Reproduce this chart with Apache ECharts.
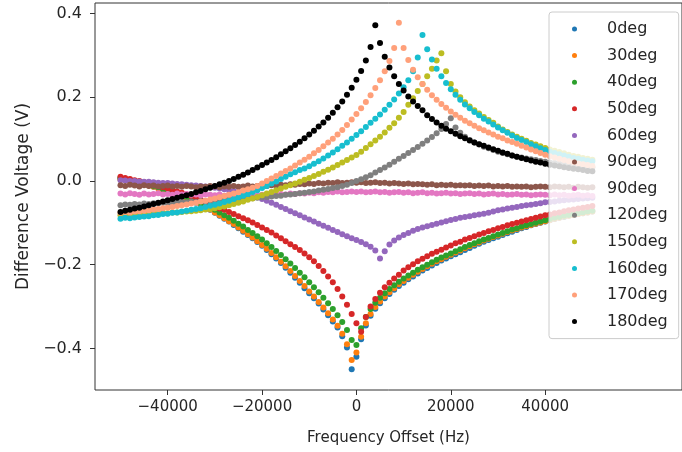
<!DOCTYPE html>
<html>
<head>
<meta charset="utf-8">
<script src="https://cdn.jsdelivr.net/npm/echarts@6.0.0/dist/echarts.min.js"></script>
<style>
  html, body { margin: 0; padding: 0; background: #ffffff; }
  #chart { width: 682px; height: 452px; }
</style>
</head>
<body>
<div id="chart"></div>
<script>
// Frequency offsets (Hz) of the sweep, shared by every phase setting
const freqHz = [
  -50000, -49000, -48000, -47000, -46000, -45000, -44000, -43000, -42000, -41000,
  -40000, -39000, -38000, -37000, -36000, -35000, -34000, -33000, -32000, -31000,
  -30000, -29000, -28000, -27000, -26000, -25000, -24000, -23000, -22000, -21000,
  -20000, -19000, -18000, -17000, -16000, -15000, -14000, -13000, -12000, -11000,
  -10000, -9000, -8000, -7000, -6000, -5000, -4000, -3000, -2000, -1000,
  0, 1000, 2000, 3000, 4000, 5000, 6000, 7000, 8000, 9000,
  10000, 11000, 12000, 13000, 14000, 15000, 16000, 17000, 18000, 19000,
  20000, 21000, 22000, 23000, 24000, 25000, 26000, 27000, 28000, 29000,
  30000, 31000, 32000, 33000, 34000, 35000, 36000, 37000, 38000, 39000,
  40000, 41000, 42000, 43000, 44000, 45000, 46000, 47000, 48000, 49000, 50000
];

// Difference voltage (V) for each phase setting
const v0deg = [
  0.006, 0.003, 0.001, -0.002, -0.004, -0.008, -0.010, -0.014, -0.017, -0.021,
  -0.025, -0.029, -0.033, -0.038, -0.042, -0.047, -0.052, -0.057, -0.063, -0.069,
  -0.076, -0.083, -0.090, -0.097, -0.105, -0.113, -0.121, -0.129, -0.137, -0.146,
  -0.155, -0.165, -0.175, -0.185, -0.196, -0.207, -0.219, -0.231, -0.243, -0.256,
  -0.268, -0.280, -0.293, -0.307, -0.321, -0.336, -0.350, -0.371, -0.398, -0.450,
  -0.420, -0.378, -0.345, -0.322, -0.305, -0.292, -0.280, -0.270, -0.260, -0.251,
  -0.243, -0.235, -0.228, -0.221, -0.214, -0.208, -0.202, -0.196, -0.190, -0.185,
  -0.180, -0.175, -0.170, -0.165, -0.160, -0.155, -0.150, -0.145, -0.141, -0.137,
  -0.133, -0.129, -0.125, -0.121, -0.117, -0.113, -0.110, -0.106, -0.103, -0.100,
  -0.097, -0.094, -0.091, -0.088, -0.086, -0.083, -0.081, -0.079, -0.077, -0.075, -0.073
];
const v30deg = [
  0.004, 0.002, -0.001, -0.003, -0.006, -0.008, -0.011, -0.014, -0.018, -0.021,
  -0.025, -0.029, -0.033, -0.037, -0.042, -0.046, -0.051, -0.057, -0.062, -0.068,
  -0.075, -0.082, -0.089, -0.096, -0.103, -0.111, -0.119, -0.127, -0.135, -0.144,
  -0.153, -0.162, -0.172, -0.182, -0.193, -0.204, -0.215, -0.227, -0.239, -0.251,
  -0.264, -0.276, -0.289, -0.302, -0.316, -0.331, -0.346, -0.365, -0.390, -0.428,
  -0.410, -0.372, -0.340, -0.318, -0.301, -0.288, -0.276, -0.266, -0.256, -0.247,
  -0.239, -0.231, -0.224, -0.217, -0.210, -0.204, -0.198, -0.192, -0.187, -0.181,
  -0.176, -0.171, -0.166, -0.161, -0.156, -0.151, -0.147, -0.142, -0.138, -0.134,
  -0.130, -0.126, -0.122, -0.118, -0.115, -0.111, -0.108, -0.105, -0.102, -0.099,
  -0.096, -0.093, -0.090, -0.088, -0.085, -0.083, -0.081, -0.079, -0.077, -0.075, -0.073
];
const v40deg = [
  0.008, 0.005, 0.003, 0.000, -0.003, -0.006, -0.009, -0.012, -0.015, -0.019,
  -0.022, -0.026, -0.030, -0.034, -0.038, -0.043, -0.048, -0.053, -0.058, -0.063,
  -0.069, -0.075, -0.082, -0.088, -0.095, -0.102, -0.109, -0.117, -0.124, -0.132,
  -0.140, -0.149, -0.158, -0.167, -0.177, -0.187, -0.197, -0.208, -0.219, -0.230,
  -0.242, -0.254, -0.266, -0.279, -0.292, -0.306, -0.321, -0.337, -0.356, -0.380,
  -0.392, -0.352, -0.325, -0.306, -0.291, -0.279, -0.268, -0.258, -0.249, -0.241,
  -0.233, -0.226, -0.219, -0.212, -0.206, -0.200, -0.194, -0.188, -0.183, -0.178,
  -0.173, -0.168, -0.163, -0.158, -0.153, -0.149, -0.144, -0.140, -0.136, -0.132,
  -0.128, -0.124, -0.120, -0.116, -0.113, -0.109, -0.106, -0.103, -0.100, -0.097,
  -0.094, -0.091, -0.088, -0.086, -0.083, -0.081, -0.079, -0.077, -0.075, -0.073, -0.071
];
const v50deg = [
  0.010, 0.007, 0.005, 0.002, 0.000, -0.003, -0.006, -0.009, -0.012, -0.015,
  -0.018, -0.021, -0.025, -0.028, -0.032, -0.036, -0.040, -0.045, -0.050, -0.056,
  -0.062, -0.066, -0.069, -0.074, -0.079, -0.084, -0.089, -0.094, -0.099, -0.105,
  -0.111, -0.117, -0.123, -0.130, -0.137, -0.144, -0.151, -0.158, -0.165, -0.173,
  -0.182, -0.192, -0.203, -0.215, -0.228, -0.242, -0.258, -0.276, -0.296, -0.318,
  -0.340, -0.360, -0.325, -0.300, -0.282, -0.267, -0.254, -0.243, -0.233, -0.224,
  -0.214, -0.206, -0.199, -0.192, -0.186, -0.180, -0.174, -0.169, -0.164, -0.159,
  -0.154, -0.149, -0.145, -0.140, -0.136, -0.132, -0.128, -0.124, -0.120, -0.117,
  -0.113, -0.110, -0.106, -0.103, -0.100, -0.097, -0.094, -0.091, -0.088, -0.085,
  -0.082, -0.080, -0.077, -0.075, -0.072, -0.070, -0.068, -0.066, -0.064, -0.062, -0.060
];
const v60deg = [
  0.002, 0.001, 0.000, 0.000, -0.001, -0.002, -0.002, -0.003, -0.004, -0.005,
  -0.005, -0.006, -0.007, -0.008, -0.009, -0.010, -0.011, -0.012, -0.013, -0.015,
  -0.016, -0.018, -0.020, -0.022, -0.024, -0.026, -0.028, -0.031, -0.034, -0.038,
  -0.043, -0.047, -0.052, -0.057, -0.062, -0.067, -0.072, -0.077, -0.082, -0.087,
  -0.092, -0.097, -0.102, -0.107, -0.112, -0.117, -0.122, -0.127, -0.132, -0.137,
  -0.141, -0.146, -0.151, -0.157, -0.166, -0.185, -0.168, -0.152, -0.142, -0.135,
  -0.129, -0.124, -0.119, -0.115, -0.111, -0.108, -0.105, -0.102, -0.099, -0.096,
  -0.093, -0.091, -0.088, -0.086, -0.084, -0.082, -0.080, -0.078, -0.076, -0.073,
  -0.070, -0.068, -0.066, -0.064, -0.062, -0.060, -0.058, -0.057, -0.055, -0.053,
  -0.051, -0.050, -0.049, -0.047, -0.046, -0.045, -0.044, -0.043, -0.042, -0.041, -0.040
];
const v90degA = [
  -0.010, -0.012, -0.009, -0.011, -0.013, -0.010, -0.012, -0.011, -0.013, -0.012,
  -0.011, -0.013, -0.012, -0.014, -0.012, -0.013, -0.015, -0.013, -0.014, -0.012,
  -0.013, -0.015, -0.013, -0.014, -0.012, -0.014, -0.013, -0.011, -0.013, -0.012,
  -0.011, -0.012, -0.010, -0.011, -0.009, -0.010, -0.008, -0.009, -0.007, -0.008,
  -0.006, -0.007, -0.005, -0.006, -0.004, -0.005, -0.003, -0.005, -0.004, -0.003,
  -0.004, -0.003, -0.005, -0.004, -0.003, -0.005, -0.004, -0.006, -0.005, -0.006,
  -0.007, -0.006, -0.008, -0.007, -0.008, -0.009, -0.008, -0.010, -0.009, -0.010,
  -0.009, -0.011, -0.010, -0.011, -0.010, -0.012, -0.011, -0.012, -0.011, -0.013,
  -0.012, -0.013, -0.012, -0.014, -0.013, -0.014, -0.013, -0.015, -0.014, -0.013,
  -0.014, -0.015, -0.013, -0.014, -0.015, -0.014, -0.016, -0.014, -0.015, -0.016, -0.015
];
const v90degB = [
  -0.030, -0.032, -0.029, -0.031, -0.033, -0.030, -0.032, -0.031, -0.029, -0.032,
  -0.031, -0.033, -0.030, -0.032, -0.031, -0.033, -0.032, -0.034, -0.032, -0.033,
  -0.034, -0.032, -0.035, -0.033, -0.034, -0.036, -0.034, -0.035, -0.033, -0.034,
  -0.033, -0.034, -0.032, -0.033, -0.031, -0.032, -0.030, -0.031, -0.029, -0.030,
  -0.028, -0.029, -0.027, -0.028, -0.026, -0.027, -0.025, -0.027, -0.026, -0.025,
  -0.026, -0.025, -0.027, -0.026, -0.025, -0.027, -0.026, -0.028, -0.027, -0.026,
  -0.028, -0.027, -0.029, -0.028, -0.027, -0.029, -0.028, -0.030, -0.029, -0.028,
  -0.030, -0.029, -0.031, -0.030, -0.029, -0.031, -0.030, -0.032, -0.031, -0.030,
  -0.032, -0.031, -0.033, -0.032, -0.031, -0.033, -0.032, -0.034, -0.033, -0.032,
  -0.033, -0.034, -0.032, -0.034, -0.033, -0.035, -0.034, -0.033, -0.035, -0.034, -0.036
];
const v120deg = [
  -0.058, -0.056, -0.057, -0.055, -0.056, -0.054, -0.055, -0.053, -0.054, -0.052,
  -0.053, -0.051, -0.052, -0.050, -0.051, -0.049, -0.050, -0.048, -0.049, -0.047,
  -0.047, -0.046, -0.045, -0.045, -0.044, -0.043, -0.042, -0.042, -0.041, -0.040,
  -0.039, -0.038, -0.037, -0.036, -0.035, -0.033, -0.032, -0.031, -0.029, -0.028,
  -0.026, -0.025, -0.023, -0.021, -0.019, -0.017, -0.015, -0.012, -0.009, -0.005,
  0.000, 0.004, 0.009, 0.014, 0.020, 0.026, 0.032, 0.039, 0.046, 0.053,
  0.060, 0.067, 0.074, 0.081, 0.089, 0.097, 0.105, 0.114, 0.124, 0.136,
  0.150, 0.128, 0.115, 0.106, 0.098, 0.092, 0.087, 0.082, 0.078, 0.074,
  0.070, 0.067, 0.064, 0.061, 0.058, 0.056, 0.054, 0.052, 0.050, 0.048,
  0.046, 0.044, 0.043, 0.041, 0.040, 0.038, 0.037, 0.036, 0.035, 0.034, 0.033
];
const v150deg = [
  -0.082, -0.080, -0.081, -0.079, -0.080, -0.078, -0.079, -0.077, -0.078, -0.076,
  -0.077, -0.075, -0.075, -0.074, -0.073, -0.072, -0.071, -0.070, -0.068, -0.067,
  -0.065, -0.063, -0.061, -0.058, -0.055, -0.052, -0.049, -0.045, -0.042, -0.038,
  -0.034, -0.030, -0.026, -0.022, -0.018, -0.014, -0.010, -0.006, -0.002, 0.003,
  0.007, 0.012, 0.017, 0.022, 0.027, 0.032, 0.038, 0.044, 0.050, 0.056,
  0.062, 0.070, 0.079, 0.088, 0.097, 0.106, 0.116, 0.127, 0.138, 0.151,
  0.165, 0.182, 0.198, 0.215, 0.232, 0.250, 0.268, 0.288, 0.305, 0.262,
  0.232, 0.214, 0.200, 0.188, 0.178, 0.169, 0.161, 0.153, 0.146, 0.139,
  0.130, 0.123, 0.117, 0.111, 0.106, 0.101, 0.096, 0.091, 0.087, 0.083,
  0.079, 0.075, 0.072, 0.069, 0.066, 0.063, 0.060, 0.058, 0.055, 0.053, 0.051
];
const v160deg = [
  -0.090, -0.088, -0.089, -0.087, -0.086, -0.085, -0.084, -0.082, -0.081, -0.079,
  -0.078, -0.076, -0.075, -0.073, -0.071, -0.069, -0.067, -0.065, -0.062, -0.059,
  -0.057, -0.054, -0.050, -0.047, -0.043, -0.039, -0.035, -0.031, -0.026, -0.022,
  -0.017, -0.012, -0.006, -0.001, 0.005, 0.010, 0.016, 0.021, 0.026, 0.030,
  0.035, 0.041, 0.047, 0.054, 0.061, 0.068, 0.076, 0.084, 0.092, 0.101,
  0.110, 0.119, 0.129, 0.139, 0.149, 0.159, 0.170, 0.182, 0.195, 0.209,
  0.224, 0.241, 0.262, 0.295, 0.349, 0.315, 0.290, 0.268, 0.250, 0.234,
  0.219, 0.206, 0.194, 0.183, 0.174, 0.165, 0.157, 0.149, 0.142, 0.135,
  0.128, 0.121, 0.115, 0.109, 0.103, 0.098, 0.093, 0.088, 0.083, 0.078,
  0.074, 0.070, 0.067, 0.064, 0.061, 0.058, 0.055, 0.053, 0.051, 0.049, 0.047
];
const v170deg = [
  -0.076, -0.074, -0.075, -0.073, -0.072, -0.071, -0.070, -0.068, -0.067, -0.065,
  -0.064, -0.062, -0.060, -0.058, -0.056, -0.054, -0.052, -0.049, -0.047, -0.044,
  -0.042, -0.039, -0.036, -0.033, -0.030, -0.027, -0.023, -0.020, -0.016, -0.012,
  -0.006, 0.000, 0.006, 0.012, 0.018, 0.024, 0.030, 0.037, 0.044, 0.051,
  0.058, 0.066, 0.074, 0.083, 0.092, 0.101, 0.111, 0.122, 0.134, 0.147,
  0.160, 0.174, 0.189, 0.205, 0.222, 0.241, 0.262, 0.287, 0.318, 0.378,
  0.318, 0.289, 0.266, 0.248, 0.232, 0.218, 0.205, 0.194, 0.184, 0.175,
  0.166, 0.158, 0.151, 0.144, 0.138, 0.132, 0.126, 0.121, 0.116, 0.111,
  0.106, 0.102, 0.097, 0.093, 0.089, 0.084, 0.080, 0.075, 0.071, 0.067,
  0.063, 0.059, 0.056, 0.053, 0.050, 0.047, 0.045, 0.042, 0.040, 0.038, 0.036
];
const v180deg = [
  -0.074, -0.071, -0.069, -0.066, -0.064, -0.061, -0.058, -0.055, -0.052, -0.049,
  -0.046, -0.043, -0.040, -0.037, -0.034, -0.031, -0.027, -0.024, -0.020, -0.016,
  -0.012, -0.008, -0.004, 0.000, 0.005, 0.010, 0.015, 0.020, 0.026, 0.032,
  0.038, 0.044, 0.050, 0.057, 0.064, 0.071, 0.078, 0.086, 0.094, 0.102,
  0.111, 0.120, 0.130, 0.140, 0.151, 0.163, 0.176, 0.190, 0.206, 0.223,
  0.242, 0.263, 0.288, 0.320, 0.372, 0.330, 0.297, 0.271, 0.250, 0.232,
  0.216, 0.202, 0.190, 0.179, 0.169, 0.157, 0.148, 0.140, 0.132, 0.125,
  0.119, 0.113, 0.107, 0.102, 0.097, 0.092, 0.088, 0.084, 0.080, 0.076,
  0.072, 0.068, 0.065, 0.061, 0.058, 0.055, 0.052, 0.049, 0.046, 0.044,
  0.041, 0.039, 0.037, 0.035, 0.033, 0.031, 0.029, 0.028, 0.026, 0.024, 0.023
];

// Legend labels (two runs share the 90deg label)
const seriesLabels = ['0deg', '30deg', '40deg', '50deg', '60deg', '90deg', '90deg',
  '120deg', '150deg', '160deg', '170deg', '180deg'];
const seriesValues = [v0deg, v30deg, v40deg, v50deg, v60deg, v90degA, v90degB,
  v120deg, v150deg, v160deg, v170deg, v180deg];
const seriesColors = ['#1f77b4', '#ff7f0e', '#2ca02c', '#d62728', '#9467bd', '#8c564b',
  '#e377c2', '#7f7f7f', '#bcbd22', '#17becf', '#ffa07a', '#000000'];

// Axis ticks
const xTicks = [-40000, -20000, 0, 20000, 40000];
const yTicks = [-0.4, -0.2, 0.0, 0.2, 0.4];

const FONT = 'DejaVu Sans';
const TEXT = '#262626';
const minus = s => s.replace('-', '\u2212');

// Series need unique names; the suffix after '#' is stripped in the legend
const keyed = seriesLabels.map((l, i) => l + '#' + i);

const series = seriesValues.map((vals, i) => ({
  name: keyed[i],
  type: 'scatter',
  symbol: 'circle',
  symbolSize: 6,
  itemStyle: { color: seriesColors[i], opacity: 1 },
  emphasis: { disabled: true },
  data: freqHz.map((f, k) => [f, vals[k]])
}));

const chart = echarts.init(document.getElementById('chart'), null, { renderer: 'canvas' });
chart.setOption({
  animation: false,
  backgroundColor: '#ffffff',
  textStyle: { fontFamily: FONT },
  grid: {
    left: 95, top: 3, width: 589, height: 387,
    show: true, borderColor: '#333333', borderWidth: 1, backgroundColor: 'transparent'
  },
  xAxis: {
    type: 'value',
    min: -55400, max: 69000,
    name: 'Frequency Offset (Hz)',
    nameLocation: 'middle',
    nameGap: 41,
    nameTextStyle: { fontFamily: FONT, fontSize: 15, color: TEXT },
    axisLine: { show: false, onZero: false },
    axisTick: { show: true, inside: false, length: 5, customValues: xTicks,
      lineStyle: { color: '#333333', width: 1 } },
    axisLabel: { customValues: xTicks, margin: 10, fontFamily: FONT, fontSize: 15, color: TEXT,
      formatter: v => minus(String(Math.round(v))) },
    splitLine: { show: false }
  },
  yAxis: {
    type: 'value',
    min: -0.4994, max: 0.4253,
    name: 'Difference Voltage (V)',
    nameLocation: 'middle',
    nameGap: 63,
    nameTextStyle: { fontFamily: FONT, fontSize: 17, color: TEXT },
    axisLine: { show: false, onZero: false },
    axisTick: { show: true, inside: false, length: 5, customValues: yTicks,
      lineStyle: { color: '#333333', width: 1 } },
    axisLabel: { customValues: yTicks, margin: 13, fontFamily: FONT, fontSize: 16, color: TEXT,
      formatter: v => minus(v.toFixed(1)) },
    splitLine: { show: false }
  },
  legend: {
    orient: 'vertical',
    left: 549, top: 12,
    data: keyed.map(k => ({ name: k, icon: 'circle' })),
    formatter: n => n.split('#')[0],
    selectedMode: false,
    backgroundColor: 'rgba(255,255,255,0.8)',
    borderColor: '#cccccc', borderWidth: 1, borderRadius: 3,
    padding: [9, 11, 9, 23],
    itemWidth: 5, itemHeight: 5, itemGap: 10.6,
    textStyle: { fontFamily: FONT, fontSize: 16, color: TEXT, lineHeight: 16,
      padding: [0, 0, 0, 25] }
  },
  series: series
});
</script>
</body>
</html>
